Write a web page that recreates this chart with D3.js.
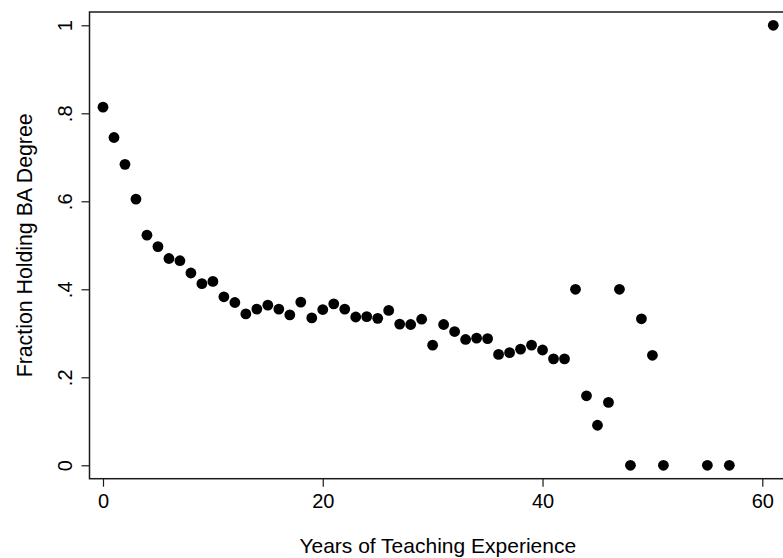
<!DOCTYPE html>
<html>
<head>
<meta charset="utf-8">
<script src="https://cdn.jsdelivr.net/npm/d3@7"></script>
<style>
  html, body { margin: 0; padding: 0; background: #fff; }
  svg { display: block; font-family: "Liberation Sans", Arial, Helvetica, sans-serif; }
</style>
</head>
<body>
<svg id="chart" width="783" height="558"></svg>
<script>
// Years of teaching experience and the share of teachers holding only a BA degree
const years = [
  0, 1, 2, 3, 4, 5, 6, 7, 8, 9, 10, 11, 12, 13, 14, 15, 16, 17, 18, 19,
  20, 21, 22, 23, 24, 25, 26, 27, 28, 29, 30, 31, 32, 33, 34, 35, 36, 37, 38, 39,
  40, 41, 42, 43, 44, 45, 46, 47, 48, 49, 50, 51, 55, 57, 61
];
const fractionBA = [
  0.814, 0.745, 0.684, 0.605, 0.523, 0.497, 0.470, 0.465, 0.437, 0.413,
  0.418, 0.383, 0.370, 0.344, 0.355, 0.364, 0.355, 0.342, 0.371, 0.335,
  0.354, 0.367, 0.355, 0.337, 0.338, 0.334, 0.352, 0.321, 0.320, 0.332,
  0.273, 0.320, 0.304, 0.286, 0.289, 0.288, 0.252, 0.256, 0.264, 0.273,
  0.262, 0.242, 0.242, 0.400, 0.158, 0.091, 0.143, 0.400, 0.000, 0.333,
  0.250, 0.000, 0.000, 0.000, 1.000
];
const xTicks = [0, 20, 40, 60];
const yTicks = [0, 0.2, 0.4, 0.6, 0.8, 1];
const yTickLabels = ["0", ".2", ".4", ".6", ".8", "1"];
const xTitle = "Years of Teaching Experience";
const yTitle = "Fraction Holding BA Degree";

const svg = d3.select("#chart");

// plot region frame
const frame = { left: 89.5, top: 12, right: 786, bottom: 478.7 };

const x = d3.scaleLinear().domain([0, 60]).range([103, 762.3]);
const y = d3.scaleLinear().domain([0, 1]).range([465.3, 25.3]);

const ink = "#1a1a1a";

// frame outline (right side sits just past the visible area)
svg.append("rect")
  .attr("x", frame.left)
  .attr("y", frame.top)
  .attr("width", frame.right - frame.left)
  .attr("height", frame.bottom - frame.top)
  .attr("fill", "none")
  .attr("stroke", ink)
  .attr("stroke-width", 1.5);

// y axis
const yAxis = svg.append("g")
  .attr("transform", `translate(${frame.left},0)`)
  .call(d3.axisLeft(y)
    .tickValues(yTicks)
    .tickSize(8)
    .tickFormat((d, i) => yTickLabels[i]));
yAxis.select(".domain").remove();
yAxis.selectAll(".tick line").attr("stroke", ink).attr("stroke-width", 1.2);
yAxis.selectAll(".tick text")
  .attr("x", null).attr("dy", null)
  .attr("transform", "translate(-17.5,0) rotate(-90)")
  .attr("text-anchor", "middle")
  .attr("fill", "#000")
  .style("font-size", "20px");

// x axis
const xAxis = svg.append("g")
  .attr("transform", `translate(0,${frame.bottom})`)
  .call(d3.axisBottom(x)
    .tickValues(xTicks)
    .tickSize(8)
    .tickFormat(d3.format("d")));
xAxis.select(".domain").remove();
xAxis.selectAll(".tick line").attr("stroke", ink).attr("stroke-width", 1.2);
xAxis.selectAll(".tick text")
  .attr("y", 29.5).attr("dy", null)
  .attr("fill", "#000")
  .style("font-size", "20px");

// axis titles
svg.append("text")
  .attr("x", (frame.left + frame.right) / 2)
  .attr("y", 553)
  .attr("text-anchor", "middle")
  .style("font-size", "21px")
  .attr("fill", "#000")
  .text(xTitle);

svg.append("text")
  .attr("transform", `translate(31.5,${(frame.top + frame.bottom) / 2}) rotate(-90)`)
  .attr("text-anchor", "middle")
  .style("font-size", "21.3px")
  .attr("fill", "#000")
  .text(yTitle);

// points
svg.append("g")
  .selectAll("circle")
  .data(years.map((yr, i) => ({ yr, v: fractionBA[i] })))
  .join("circle")
  .attr("cx", d => x(d.yr))
  .attr("cy", d => y(d.v))
  .attr("r", 5.4)
  .attr("fill", "#000");
</script>
</body>
</html>
